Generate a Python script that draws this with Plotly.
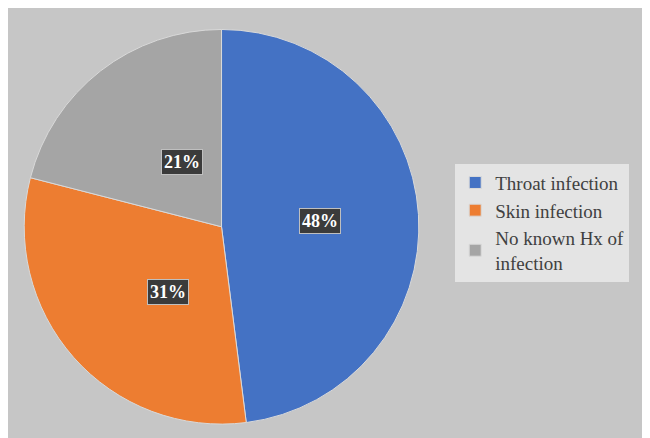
import math
import plotly.graph_objects as go

labels = ["Throat infection", "Skin infection", "No known Hx of<br>infection"]
values = [48, 31, 21]
colors = ["#4472c4", "#ed7d31", "#a5a5a5"]

x0, x1 = 0.024, 0.633
y0, y1 = 0.05, 0.951

fig = go.Figure(go.Pie(
    labels=labels, values=values, sort=False, direction="clockwise", rotation=0,
    marker=dict(colors=colors, line=dict(color="#d9d9d9", width=1)),
    textinfo="none", hoverinfo="label+percent",
    domain=dict(x=[x0, x1], y=[y0, y1]),
))

# percentage boxes at the middle of each slice
cx, cy = (x0 + x1) / 2, (y0 + y1) / 2
rx, ry = (x1 - x0) / 2, (y1 - y0) / 2
total = sum(values)
cum = 0
for v in values:
    mid = math.radians(90 - (cum + v / 2) / total * 360)
    cum += v
    fig.add_annotation(
        x=cx + 0.5 * rx * math.cos(mid), y=cy + 0.5 * ry * math.sin(mid),
        xref="paper", yref="paper", showarrow=False,
        text="<b>%d%%</b>" % round(v / total * 100),
        font=dict(family="Liberation Serif", size=18, color="white"),
        bgcolor="#3b3b3b", bordercolor="#bfbfbf", borderwidth=1, borderpad=2,
    )

fig.update_layout(
    width=650, height=438,
    margin=dict(l=0, r=0, t=0, b=0),
    paper_bgcolor="#c6c6c6",
    legend=dict(
        x=0.688, y=0.51, xanchor="left", yanchor="middle",
        bgcolor="#e4e4e4", borderwidth=0,
        font=dict(family="Liberation Serif", size=19, color="#404040"),
        itemwidth=30,
    ),
)

fig.write_html("out.html")
